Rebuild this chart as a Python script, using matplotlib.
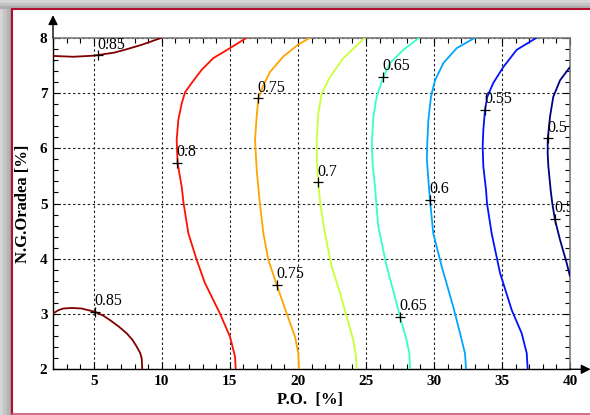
import numpy as np
import matplotlib.pyplot as plt
from matplotlib.patches import Rectangle
from matplotlib.lines import Line2D
from matplotlib.colors import Normalize, LinearSegmentedColormap

plt.rcParams['font.family'] = ['Liberation Serif', 'DejaVu Serif']

# ---------------- data ----------------
levels = [0.5, 0.55, 0.6, 0.65, 0.7, 0.75, 0.8, 0.85]

# contour lines: x = P.O. [%], y = N.G.Oradea [%]
c085a_x = [2.0, 3.5, 5.0, 6.5, 7.4, 8.5, 10.0]
c085a_y = [7.67, 7.655, 7.675, 7.73, 7.79, 7.87, 8.0]

c085b_x = [2.0, 2.4, 2.76, 3.4, 4.1, 5.09, 5.7, 6.19, 6.8, 7.42, 7.85, 8.15, 8.4, 8.52, 8.56]
c085b_y = [3.01, 3.07, 3.10, 3.11, 3.10, 3.04, 2.97, 2.89, 2.78, 2.65, 2.53, 2.41, 2.30, 2.20, 2.0]

c080_x = [16.24, 15.0, 13.78, 12.93, 12.19, 11.70, 11.46, 11.21, 11.09, 11.16, 11.46,
          11.6, 11.95, 12.56, 13.17, 14.27, 15.01, 15.38, 15.43]
c080_y = [8.0, 7.81, 7.63, 7.42, 7.18, 7.01, 6.81, 6.51, 6.15, 5.73, 5.30,
          5.0, 4.46, 3.98, 3.56, 3.01, 2.59, 2.23, 2.0]

c075_x = [20.89, 19.99, 18.93, 17.95, 17.46, 17.09, 16.97, 16.85, 16.97, 17.18,
          17.46, 17.83, 18.44, 19.18, 19.79, 20.03, 20.08]
c075_y = [8.0, 7.87, 7.66, 7.38, 7.14, 6.90, 6.57, 6.15, 5.61, 5.06,
          4.46, 3.98, 3.53, 3.01, 2.59, 2.29, 2.0]

c070_x = [24.93, 23.34, 22.36, 21.75, 21.50, 21.38, 21.40, 21.50, 21.64, 21.99, 22.48,
          23.10, 23.59, 24.07, 24.27, 24.32]
c070_y = [8.0, 7.63, 7.29, 6.99, 6.63, 6.15, 5.75, 5.38, 5.0, 4.46, 3.86,
          3.38, 2.95, 2.53, 2.23, 2.0]

c065_x = [28.92, 27.75, 26.77, 26.28, 25.79, 25.55, 25.43, 25.50, 25.67, 25.76, 25.91,
          26.53, 27.26, 27.5, 27.99, 28.19, 28.24]
c065_y = [8.0, 7.78, 7.54, 7.29, 6.93, 6.57, 6.09, 5.70, 5.30, 5.0, 4.58,
          3.86, 3.19, 2.95, 2.53, 2.29, 2.0]

c060_x = [33.02, 31.67, 30.69, 30.08, 29.78, 29.59, 29.51, 29.48, 29.59, 29.71, 29.95,
          30.57, 31.42, 31.92, 32.28, 32.36]
c060_y = [8.0, 7.81, 7.54, 7.23, 6.93, 6.51, 6.09, 5.80, 5.43, 5.06, 4.46,
          3.86, 3.13, 2.65, 2.29, 2.0]

c055_x = [37.55, 36.08, 35.10, 34.36, 33.92, 33.75, 33.63, 33.58, 33.63, 33.83, 33.9,
          34.24, 34.86, 35.72, 36.45, 36.82, 36.89]
c055_y = [8.0, 7.78, 7.47, 7.18, 6.93, 6.69, 6.33, 6.03, 5.67, 5.24, 5.0,
          4.46, 3.74, 3.07, 2.65, 2.29, 2.0]

c050_x = [40.0, 39.27, 38.77, 38.53, 38.36, 38.36, 38.41, 38.58, 38.7, 38.9, 39.27,
          39.76, 40.0]
c050_y = [7.47, 7.23, 6.93, 6.57, 6.15, 5.90, 5.67, 5.24, 5.0, 4.70, 4.34,
          3.92, 3.68]

contours = [
    (0.85, c085a_x, c085a_y), (0.85, c085b_x, c085b_y),
    (0.80, c080_x, c080_y), (0.75, c075_x, c075_y),
    (0.70, c070_x, c070_y), (0.65, c065_x, c065_y),
    (0.60, c060_x, c060_y), (0.55, c055_x, c055_y),
    (0.50, c050_x, c050_y),
]

# inline label positions
label_x = [5.3, 5.1, 11.15, 17.1, 18.45, 21.5, 26.28, 27.5, 29.7, 33.75, 38.4, 38.9]
label_y = [7.68, 3.04, 5.73, 6.90, 3.53, 5.38, 7.29, 2.95, 5.06, 6.69, 6.18, 4.72]
label_text = ['0.85', '0.85', '0.8', '0.75', '0.75', '0.7', '0.65', '0.65',
              '0.6', '0.55', '0.5', '0.5']

x_ticks = [5, 10, 15, 20, 25, 30, 35, 40]
y_ticks = [2, 3, 4, 5, 6, 7, 8]

# ---------------- figure ----------------
fig = plt.figure(figsize=(5.9, 4.15), dpi=100, facecolor='white')

# decorative frame (grey shadow + red border)
W, H = 590.0, 415.0
for (x0, w, c) in [(0, 3, '#d6d6d6'), (3, 4, '#c6c6c6'), (7, 3, '#b4b4b4'), (10, 1.5, '#a2a2a2')]:
    fig.patches.append(Rectangle((x0 / W, 0), w / W, 1, transform=fig.transFigure,
                                 color=c, zorder=0))
for (y0, h, c) in [(0, 3, '#d6d6d6'), (3, 3, '#c4c4c4'), (6, 2.5, '#aeaeae')]:
    fig.patches.append(Rectangle((0, 1 - (y0 + h) / H), 1, h / H, transform=fig.transFigure,
                                 color=c, zorder=0))
fig.lines.append(Line2D([12 / W, 12 / W], [0, 1 - 9 / H], transform=fig.transFigure,
                        color='#b0102c', lw=1.5))
fig.lines.append(Line2D([12 / W, 1], [1 - 9 / H, 1 - 9 / H], transform=fig.transFigure,
                        color='#b0102c', lw=1.5))
fig.lines.append(Line2D([12 / W, 1], [1.5 / H, 1.5 / H], transform=fig.transFigure,
                        color='#d05070', lw=1.2))

ax = fig.add_axes([53 / W, 1 - 369.3 / H, 517 / W, 331.6 / H])
ax.set_xlim(2, 40)
ax.set_ylim(2, 8)

# MATLAB-style jet colormap
jet_m = LinearSegmentedColormap.from_list(
    'jet_m', [(0.0, (0, 0, 0.5)), (0.125, (0, 0, 1)), (0.375, (0, 1, 1)),
              (0.625, (1, 1, 0)), (0.875, (1, 0, 0)), (1.0, (0.5, 0, 0))])
norm = Normalize(vmin=min(levels), vmax=max(levels))
for lev, xs, ys in contours:
    ax.plot(xs, ys, color=jet_m(norm(lev)), lw=1.3, solid_joinstyle='round',
            solid_capstyle='butt', zorder=3)

ax.plot(label_x, label_y, linestyle='none', marker='+', color='black',
        markersize=7, markeredgewidth=0.9, zorder=4)
for lx, ly, t in zip(label_x, label_y, label_text):
    ax.annotate(t, (lx, ly), xytext=(-0.5, 2), textcoords='offset points',
                ha='left', va='bottom', fontsize=11.5, color='black', zorder=5,
                annotation_clip=True, clip_on=True)

ax.set_xticks(x_ticks)
ax.set_yticks(y_ticks)
ax.set_xticks(np.arange(2, 41, 1), minor=True)
ax.set_yticks(np.arange(2, 8.01, 0.2), minor=True)
ax.tick_params(which='both', direction='in', top=True, right=True, color='black')
ax.tick_params(which='major', length=5, width=0.8, labelsize=11, pad=4)
ax.tick_params(which='minor', length=3.5, width=0.8)
for lab in ax.get_xticklabels() + ax.get_yticklabels():
    lab.set_fontweight('bold')

ax.grid(True, which='major', color='#222222', linestyle=(0, (2.2, 2.2)), lw=0.8, zorder=1)
ax.set_axisbelow(True)

for s in ['top', 'right']:
    ax.spines[s].set_color('#7a7a7a')
    ax.spines[s].set_linewidth(1.2)
for s in ['left', 'bottom']:
    ax.spines[s].set_color('black')
    ax.spines[s].set_linewidth(1.0)

ax.set_xlabel('P.O.  [%]', fontsize=12, fontweight='bold')
ax.xaxis.set_label_coords(0.497, -0.068)
ax.set_ylabel('N.G.Oradea [%]', fontsize=12, fontweight='bold')
ax.yaxis.set_label_coords(-0.042, 0.5)

# axis arrows
ax.annotate('', xy=(0, 1.068), xytext=(0, 1.0), xycoords='axes fraction',
            arrowprops=dict(arrowstyle='-|>', color='black', lw=1.0,
                            mutation_scale=14, shrinkA=0, shrinkB=0),
            annotation_clip=False)
ax.annotate('', xy=(1.04, 0), xytext=(1.0, 0), xycoords='axes fraction',
            arrowprops=dict(arrowstyle='-|>', color='black', lw=1.0,
                            mutation_scale=14, shrinkA=0, shrinkB=0),
            annotation_clip=False)

fig.savefig('out.png', dpi=100, facecolor=fig.get_facecolor())
